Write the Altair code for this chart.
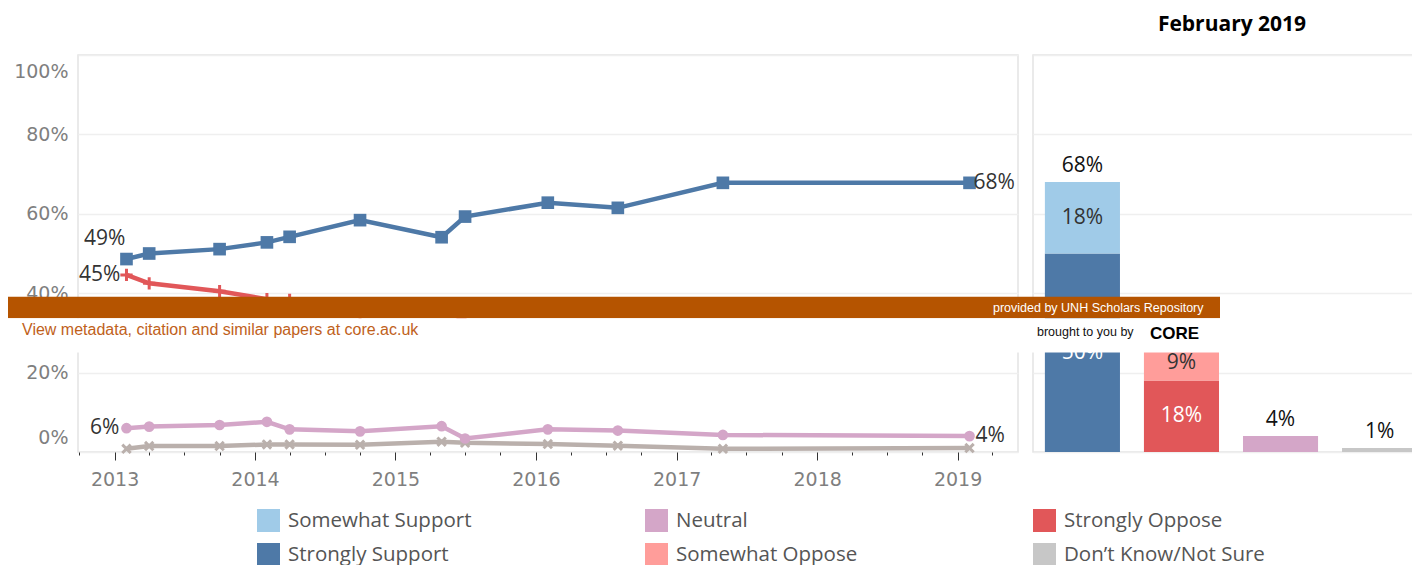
import altair as alt
import pandas as pd

# ---------------- data ----------------
survey_dates = ["2013-02-01T00:00:00", "2013-04-01T00:00:00", "2013-10-01T00:00:00",
                "2014-02-01T00:00:00", "2014-04-01T00:00:00", "2014-10-01T00:00:00",
                "2015-05-01T00:00:00", "2015-07-01T00:00:00", "2016-02-01T00:00:00",
                "2016-08-01T00:00:00", "2017-05-01T00:00:00", "2019-02-01T00:00:00"]
support_pct = [48.6, 50.0, 51.1, 52.8, 54.2, 58.4, 54.1, 59.3, 62.8, 61.5, 67.8, 67.8]
oppose_pct = [44.6, 42.5, 40.5, 38.5, 38.3, 35.0, 36.5, 33.0, 31.0, 31.5, 28.0, 27.2]
neutral_pct = [6.0, 6.4, 6.8, 7.6, 5.7, 5.2, 6.5, 3.4, 5.7, 5.4, 4.3, 4.0]
dont_know_pct = [0.8, 1.5, 1.5, 1.9, 1.9, 1.8, 2.6, 2.3, 2.0, 1.6, 0.8, 1.0]
series_names = ["Support", "Oppose", "Neutral", "Don't Know"]
series_colors = ["#4e79a7", "#e15759", "#d4a6c8", "#bab0ac"]

tick_years = [2012, 2013, 2014, 2015, 2016, 2017, 2018, 2019]
y_ticks = [0, 20, 40, 60, 80, 100]

panel_title = "February 2019"
bar_groups = ["Support", "Oppose", "Neutral", "Don't Know"]
bar_segments = ["Strongly Support", "Somewhat Support", "Strongly Oppose",
                "Somewhat Oppose", "Neutral", "Don’t Know/Not Sure"]
bar_group_of_segment = ["Support", "Support", "Oppose", "Oppose", "Neutral", "Don't Know"]
bar_values = [50, 18, 18, 9, 4, 1]
bar_stack_rank = [0, 1, 0, 1, 0, 0]

# legend fills column by column (2 rows x 3 columns)
legend_order = ["Somewhat Support", "Strongly Support", "Neutral",
                "Somewhat Oppose", "Strongly Oppose", "Don’t Know/Not Sure"]
legend_colors = ["#a0cbe8", "#4e79a7", "#d4a6c8", "#ff9d9a", "#e15759", "#c7c7c7"]

banner_texts = ["View metadata, citation and similar papers at core.ac.uk",
                "provided by UNH Scholars Repository", "brought to you by", "CORE"]

# ---------------- tables ----------------
rows = []
for name, vals in zip(series_names, [support_pct, oppose_pct, neutral_pct, dont_know_pct]):
    for i, (d, v) in enumerate(zip(survey_dates, vals)):
        rows.append({"date": d, "series": name, "value": v, "idx": i})
lines_df = pd.DataFrame(rows)
last_idx = len(survey_dates) - 1

bars_df = pd.DataFrame({"segment": bar_segments, "group": bar_group_of_segment,
                        "value": bar_values, "rank": bar_stack_rank})

FONT = "Open Sans"
AXIS_FONT = "DejaVu Sans"
LABEL_GREY = "#7f7f7f"

quarter_ticks = []
for yr in tick_years:
    for m in (1, 4, 7, 10):
        if (2012, 10) <= (yr, m) <= (2019, 4):
            quarter_ticks.append(alt.DateTime(year=yr, month=m, date=1))

x_scale = alt.Scale(domain=[alt.DateTime(year=2012, month=9, date=28),
                            alt.DateTime(year=2019, month=6, date=7)])
x_axis = alt.Axis(
    values=quarter_ticks,
    labelExpr="month(datum.value) == 0 ? timeFormat(datum.value, '%Y') : ''",
    tickSize={"condition": {"test": "month(datum.value) == 0", "value": 8}, "value": 3},
    tickColor="#333333", tickWidth=1, domain=False, grid=False,
    labelFontSize=19, labelColor=LABEL_GREY, labelFont=AXIS_FONT, labelPadding=10,
    labelFlush=False, labelOverlap=False, title=None)

y_scale = alt.Scale(domain=[0, 100])
y_left_axis = alt.Axis(
    values=y_ticks, labelExpr="datum.value + '%'", grid=True, gridColor="#efefef",
    gridWidth=1.5, domain=False, ticks=False, labelFontSize=19, labelColor=LABEL_GREY,
    labelFont=AXIS_FONT, labelPadding=10, labelFlush=False,
    labelOffset={"condition": [{"test": "datum.value == 100", "value": 16},
                               {"test": "datum.value == 0", "value": -15}], "value": 0},
    title=None)
y_right_axis = alt.Axis(values=y_ticks, grid=True, gridColor="#efefef", gridWidth=1.5,
                        labels=False, ticks=False, domain=False, title=None)

base = alt.Chart(lines_df).encode(
    x=alt.X("date:T", scale=x_scale, axis=x_axis),
    y=alt.Y("value:Q", scale=y_scale, axis=y_left_axis),
)

left_layers = []
draw_order = ["Don't Know", "Neutral", "Oppose", "Support"]
for name in draw_order:
    col = series_colors[series_names.index(name)]
    sel = base.transform_filter(alt.datum.series == name)
    left_layers.append(sel.mark_line(color=col, strokeWidth=4.5))
    if name == "Support":
        left_layers.append(sel.mark_square(color=col, size=160, opacity=1))
    elif name == "Neutral":
        left_layers.append(sel.mark_circle(color=col, size=115, opacity=1))
    elif name == "Oppose":
        left_layers.append(sel.mark_point(shape="M-1,0L1,0M0,-1L0,1", size=150, filled=False,
                                          color=col, strokeWidth=3, opacity=1))
    else:
        left_layers.append(sel.mark_point(shape="M-1,-1L1,1M-1,1L1,-1", size=70, filled=False,
                                          color=col, strokeWidth=3, opacity=1))

label_specs = [
    ("Support", 0, dict(align="right", dx=-1, dy=-20)),
    ("Support", last_idx, dict(align="left", dx=4, dy=0)),
    ("Oppose", 0, dict(align="right", dx=-6, dy=0)),
    ("Neutral", 0, dict(align="right", dx=-7, dy=0)),
    ("Neutral", last_idx, dict(align="left", dx=6, dy=0)),
]
for name, idx, kw in label_specs:
    left_layers.append(
        base.transform_filter((alt.datum.series == name) & (alt.datum.idx == idx))
        .transform_calculate(label="round(datum.value) + '%'")
        .mark_text(fontSize=21, font=FONT, color="#333333", baseline="middle", **kw)
        .encode(text="label:N")
    )

left = alt.layer(*left_layers).properties(width=940, height=397)

# ---------------- right panel ----------------
x_band = alt.Scale(domain=bar_groups, paddingInner=0.242, paddingOuter=0.12)
bars = alt.Chart(bars_df).mark_bar().encode(
    x=alt.X("group:N", scale=x_band, axis=None, sort=bar_groups),
    y=alt.Y("value:Q", stack="zero", scale=y_scale, axis=y_right_axis),
    color=alt.Color("segment:N", scale=alt.Scale(domain=legend_order, range=legend_colors),
                    legend=alt.Legend(
                        orient="none", legendX=179, legendY=454, columns=3, title=None,
                        symbolType="square", symbolSize=529, symbolStrokeWidth=0,
                        labelFontSize=20.5, labelFont=FONT, labelColor="#555555",
                        labelOffset=8, columnPadding=156, rowPadding=11, gridAlign="all",
                        padding=0, labelLimit=400)),
    order=alt.Order("rank:Q", sort="ascending"),
)

stacked = alt.Chart(bars_df).transform_stack(
    stack="value", groupby=["group"], as_=["v0", "v1"],
    sort=[alt.SortField("rank", order="ascending")]
).transform_filter(
    "datum.group == 'Support' || datum.group == 'Oppose'"
).transform_calculate(mid="(datum.v0 + datum.v1) / 2", label="datum.value + '%'")

inner_dark = stacked.transform_filter("datum.rank == 0").mark_text(
    fontSize=21, font=FONT, color="#ffffff", baseline="middle").encode(
    x=alt.X("group:N", scale=x_band, axis=None, sort=bar_groups),
    y=alt.Y("mid:Q", scale=y_scale, axis=y_right_axis), text="label:N")
inner_light = stacked.transform_filter("datum.rank == 1").mark_text(
    fontSize=21, font=FONT, color="#333333", baseline="middle").encode(
    x=alt.X("group:N", scale=x_band, axis=None, sort=bar_groups),
    y=alt.Y("mid:Q", scale=y_scale, axis=y_right_axis), text="label:N")

# the total above the oppose bar sits under the banner in the reference
totals = alt.Chart(bars_df).transform_aggregate(
    total="sum(value)", groupby=["group"]
).transform_filter("datum.group != 'Oppose'").transform_calculate(
    label="datum.total + '%'").mark_text(
    fontSize=21, font=FONT, color="#111111", baseline="middle", dy=-16).encode(
    x=alt.X("group:N", scale=x_band, axis=None, sort=bar_groups),
    y=alt.Y("total:Q", scale=y_scale, axis=y_right_axis), text="label:N")

title_mark = alt.Chart(pd.DataFrame({"t": [panel_title]})).mark_text(
    fontSize=21, font=FONT, fontWeight="bold", color="#000000", baseline="alphabetic"
).encode(x=alt.value(199), y=alt.value(-24.5), text="t:N")

# CORE banner overlay (drawn on top of both panels)
one = pd.DataFrame({"k": [0]})
banner_orange = alt.Chart(one).mark_rect(color="#b55400").encode(
    x=alt.value(-1025), x2=alt.value(187), y=alt.value(241.7), y2=alt.value(263.3))
banner_white = alt.Chart(one).mark_rect(color="#ffffff").encode(
    x=alt.value(-1025), x2=alt.value(187), y=alt.value(263.3), y2=alt.value(297.5))
banner_df = pd.DataFrame({"t": banner_texts})
b1 = alt.Chart(banner_df).transform_filter(alt.datum.t == banner_texts[0]).mark_text(
    align="left", baseline="middle", fontSize=16, font="Liberation Sans", color="#c0611b"
).encode(x=alt.value(-1011), y=alt.value(275), text="t:N")
b2 = alt.Chart(banner_df).transform_filter(alt.datum.t == banner_texts[1]).mark_text(
    align="left", baseline="middle", fontSize=12.5, font="Liberation Sans", color="#ffffff"
).encode(x=alt.value(-40), y=alt.value(253), text="t:N")
b3 = alt.Chart(banner_df).transform_filter(alt.datum.t == banner_texts[2]).mark_text(
    align="left", baseline="middle", fontSize=12.5, font="Liberation Sans", color="#111111"
).encode(x=alt.value(4), y=alt.value(276.5), text="t:N")
b4 = alt.Chart(banner_df).transform_filter(alt.datum.t == banner_texts[3]).mark_text(
    align="left", baseline="middle", fontSize=17, font="Liberation Sans", fontWeight="bold",
    color="#000000"
).encode(x=alt.value(117), y=alt.value(279), text="t:N")

right = alt.layer(bars, inner_dark, inner_light, totals, title_mark,
                  banner_orange, banner_white, b1, b2, b3, b4).properties(width=396, height=397)

# fixed-size canvas: origin of the left plot at page (78, 55), svg 1404 x 548
chart = alt.hconcat(left, right, spacing=15, bounds="flush").properties(
    autosize=alt.AutoSizeParams(type="none"),
    padding={"left": 70, "top": 47, "right": 1334, "bottom": 501},
).configure_view(stroke="#e4e4e4", strokeWidth=1.5)

chart.save("out.html", embed_options={"renderer": "svg", "actions": False})
